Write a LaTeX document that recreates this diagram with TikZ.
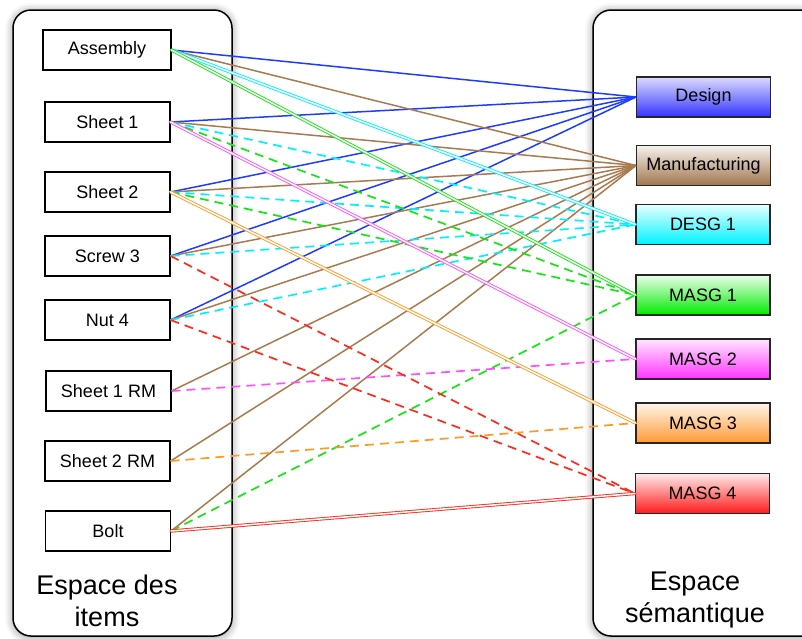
\documentclass[tikz,border=0pt]{standalone}
\usepackage{fontspec}
\setmainfont{Liberation Sans}
\usetikzlibrary{shadows.blur}
\definecolor{cblue}{HTML}{1E3CFF}
\definecolor{cbrown}{HTML}{A87B4F}
\definecolor{ccyan}{HTML}{00F0FF}
\definecolor{cgreen}{HTML}{14E614}
\definecolor{cmag}{HTML}{FF50FF}
\definecolor{corange}{HTML}{FF9A22}
\definecolor{cred}{HTML}{FF2A1A}
\begin{document}
\begin{tikzpicture}[x=1pt,y=-1pt,
  spacebox/.style={draw=black, line width=1.5pt, rounded corners=18pt, fill=white,
    blur shadow={shadow xshift=0pt, shadow yshift=-1pt, shadow blur radius=8pt, shadow opacity=45}},
  item/.style={draw=black, line width=1.1pt, fill=white, minimum width=125pt, minimum height=40pt,
    inner sep=0pt, font=\fontsize{18}{20}\selectfont},
  sem/.style={item, minimum width=134pt, draw=black!85},
  lbl/.style={align=center, font=\fontsize{27}{32}\selectfont, inner sep=0pt},
  sol/.style={line width=1.5pt},
  dsh/.style={line width=1.7pt, dash pattern=on 9pt off 6pt},
  dbl/.style={line width=0.9pt, double=white, double distance=1.5pt, line cap=round}
]
\clip (0,0) rectangle (802,638);
\useasboundingbox (0,0) rectangle (802,638);
\path[spacebox] (13,10) rectangle (232,636);
\path[spacebox] (593,10) rectangle (840,636);

% left items
\node[item, minimum width=128pt] (asm) at (107,50) {Assembly};
\node[item] (s1) at (107.5,122) {Sheet 1};
\node[item] (s2) at (107.5,192) {Sheet 2};
\node[item] (sc3) at (107.5,256) {Screw 3};
\node[item] (n4) at (107.5,320) {Nut 4};
\node[item] (s1rm) at (108.5,391) {Sheet 1 RM};
\node[item] (s2rm) at (107.5,461) {Sheet 2 RM};
\node[item] (bolt) at (108,531) {Bolt};

% right semantic nodes
\node[sem, top color=blue!14, bottom color=blue!80!white] (des) at (703.5,97) {Design};
\node[sem, top color=cbrown!10, bottom color=cbrown!95!black] (man) at (703.5,165.5) {Manufacturing};
\node[sem, top color=cyan!10, bottom color=cyan!95!blue] (desg) at (703,224.5) {DESG 1};
\node[sem, top color=green!8, bottom color=green!92!black] (m1) at (703,295) {MASG 1};
\node[sem, top color=magenta!10, bottom color=magenta!80!white] (m2) at (703,359) {MASG 2};
\node[sem, top color=orange!8, bottom color=orange!80!white] (m3) at (703,423) {MASG 3};
\node[sem, top color=red!8, bottom color=red!90!white] (m4) at (702.5,493.5) {MASG 4};

\node[lbl] (lleft) at (107,601) {Espace des\\items};
\node[lbl] (lright) at (695,600) {Espace\\sémantique};

% Design (blue)
\foreach \n in {asm,s1,s2,sc3,n4} \draw[sol,cblue] (\n.east) -- (des.west);
% Manufacturing (brown)
\foreach \n in {asm,s1,s2,sc3,n4,s1rm,s2rm,bolt} \draw[sol,cbrown] (\n.east) -- (man.west);
% DESG 1 (cyan)
\foreach \n in {s1,s2,sc3,n4} \draw[dsh,ccyan] (\n.east) -- (desg.west);
\draw[dbl,ccyan] (asm.east) -- (desg.west);
% MASG 1 (green)
\foreach \n in {s1,s2,bolt} \draw[dsh,cgreen] (\n.east) -- (m1.west);
\draw[dbl,cgreen] (asm.east) -- (m1.west);
% MASG 2 (magenta)
\draw[dsh,cmag] (s1rm.east) -- (m2.west);
\draw[dbl,cmag] (s1.east) -- (m2.west);
% MASG 3 (orange)
\draw[dsh,corange] (s2rm.east) -- (m3.west);
\draw[dbl,corange] (s2.east) -- (m3.west);
% MASG 4 (red)
\foreach \n in {sc3,n4} \draw[dsh,cred] (\n.east) -- (m4.west);
\draw[dbl,cred] (bolt.east) -- (m4.west);
\end{tikzpicture}
\end{document}
